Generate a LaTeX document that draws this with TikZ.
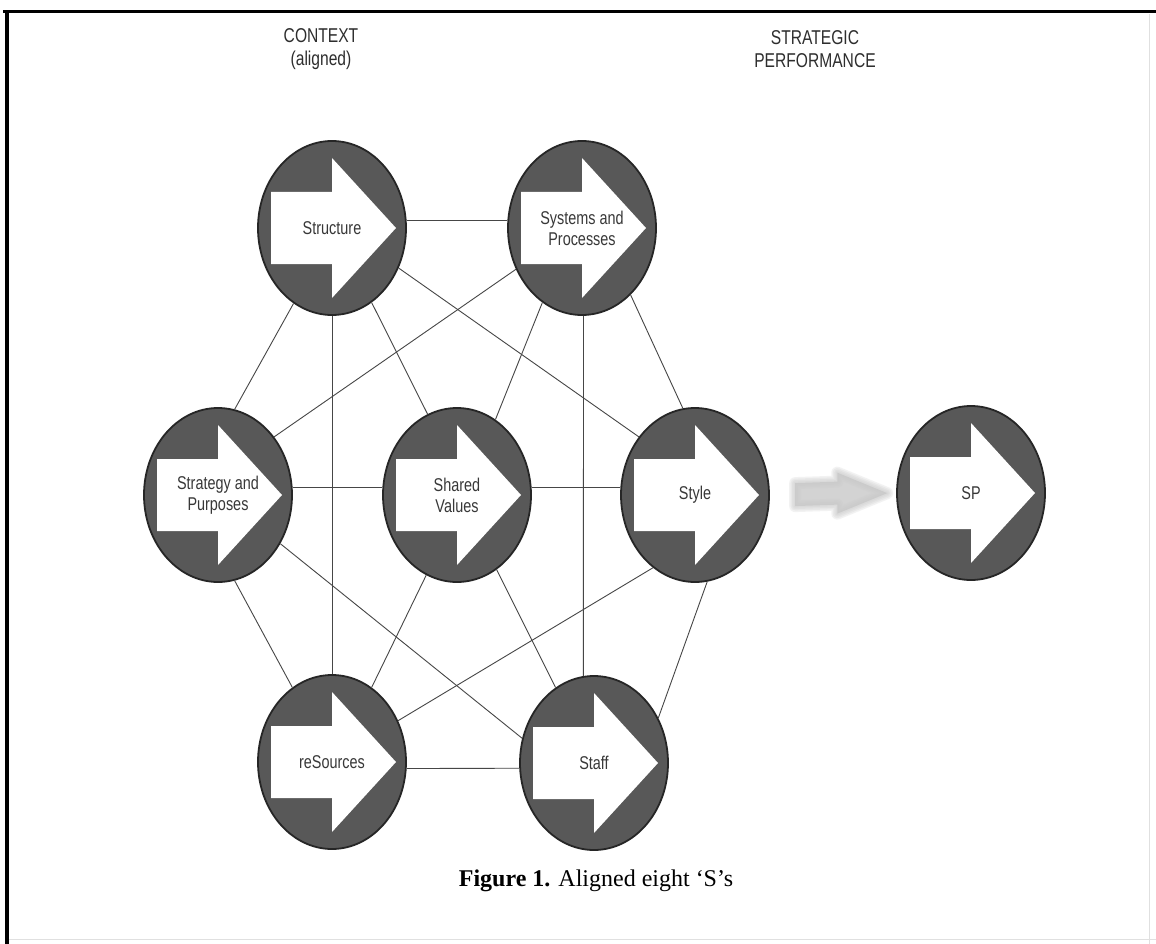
\documentclass[tikz,border=0pt]{standalone}
\usepackage{fontspec}
\setmainfont{Liberation Serif}
\newfontfamily\lab{Liberation Sans}[FakeStretch=0.78]
\usetikzlibrary{shapes.geometric,calc}
\definecolor{ringfill}{RGB}{88,88,88}
\definecolor{ringline}{RGB}{38,38,38}
\definecolor{linkcol}{RGB}{70,70,70}
\definecolor{flowgray}{RGB}{200,200,200}

\begin{document}
\begin{tikzpicture}[x=1pt,y=-1pt,
  sbub/.style={ellipse, draw=ringline, line width=1.8pt, fill=ringfill,
    minimum width=148pt, minimum height=174pt, inner sep=0pt,
    font=\lab\fontsize{18.5}{21}\selectfont, text=black!78, align=center,
    path picture={
      \fill[white] ([shift={(-61pt,-36pt)}]path picture bounding box.center)
        -- ++(61pt,0pt) -- ++(0pt,-34pt) -- ++(64pt,70pt) -- ++(-64pt,70pt)
        -- ++(0pt,-34pt) -- ++(-61pt,0pt) -- cycle;}},
  link/.style={draw=linkcol, line width=0.9pt},
  head/.style={font=\lab\fontsize{20}{23}\selectfont, align=center, text=black!82}]

\useasboundingbox (0,0) rectangle (1156,944);
\fill[white] (0,0) rectangle (1156,944);

% page frame
\draw[line width=3pt, black] (3,12) -- (1156,12);
\draw[line width=3.5pt, black] (7,10.5) -- (7,944);
\draw[line width=1pt, black!12] (1149,14) -- (1149,944);
\draw[line width=1pt, black!12] (9,939) -- (1156,939);

% column headings
\node[head] (hctx) at (321,49) {CONTEXT\\(aligned)};
\node[head] (hsp) at (815,49) {STRATEGIC\\PERFORMANCE};

% the eight S bubbles
\node[sbub] (str) at (332,228) {Structure};
\node[sbub] (sys) at (582,228) {Systems and\\Processes};
\node[sbub] (stp) at (218,495) {Strategy and\\Purposes};
\node[sbub] (shv) at (457,495) {Shared\\Values};
\node[sbub] (sty) at (695,495) {Style};
\node[sbub] (res) at (332,762) {reSources};
\node[sbub] (stf) at (594,763) {Staff};
\node[sbub] (sp)  at (971,493) {SP};

% links between the S bubbles
\draw[link] (str.6)    -- (sys.174);
\draw[link] (str.-117) -- (stp.79);
\draw[link] (str.-90)  -- (res.90);
\draw[link] (str.-62)  -- (shv.110);
\draw[link] (str.-31)  -- (sty.134);
\draw[link] (sys.-148) -- (stp.46);
\draw[link] (sys.-118) -- (shv.63);
\draw[link] (sys.-89)  -- (stf.97);
\draw[link] (sys.-54)  -- (sty.98);
\draw[link] (stp.6)    -- (shv.174);
\draw[link] (shv.6)    -- (sty.174);
\draw[link] (stp.-38)  -- (stf.161);
\draw[link] (stp.-79)  -- (res.118);
\draw[link] (shv.-111) -- (res.62);
\draw[link] (shv.-62)  -- (stf.117);
\draw[link] (sty.-120) -- (res.32);
\draw[link] (sty.-82)  -- (stf.35);
\draw[link] (res.-5)   -- (stf.-176);

% soft grey arrow towards strategic performance
\path (sty.east) -- (sp.west) coordinate[pos=0.2] (ga) coordinate[pos=0.93] (gb);
\def\flowarrow{($(ga)+(0,-11.5)$) -- ($(gb)+(-50,-11.5)$) -- ($(gb)+(-50,-20.5)$) -- (gb)
  -- ($(gb)+(-50,20.5)$) -- ($(gb)+(-50,11.5)$) -- ($(ga)+(0,11.5)$) -- cycle}
\foreach \w in {12,9,6,3}
  \draw[flowgray, line width=\w pt, line join=round, opacity=0.22] \flowarrow;
\fill[flowgray, opacity=0.8] \flowarrow;

% caption
\node[font=\fontsize{24}{28}\selectfont] (cap) at (596,881) {\textbf{Figure 1.} Aligned eight ‘S’s};
\end{tikzpicture}
\end{document}
